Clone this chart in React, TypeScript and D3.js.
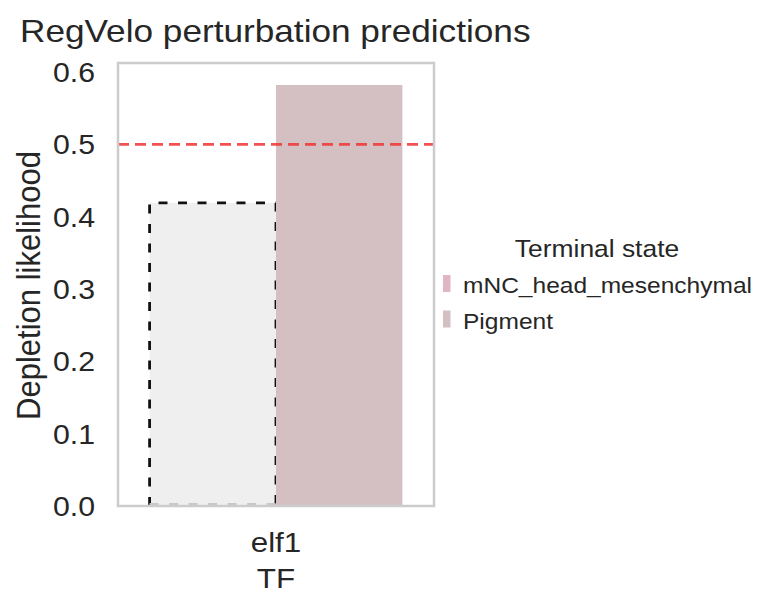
import * as d3 from 'd3';
import type { ReactNode } from 'react';

// data
const genes = ['elf1'];
const states = ['mNC_head_mesenchymal', 'Pigment'];
const likelihood = [0.419, 0.582];
const significant = [false, true];
const stateColors = ['#dfb6c1', '#d4bfc3'];
const yTicks = [0, 0.1, 0.2, 0.3, 0.4, 0.5, 0.6];
const threshold = 0.5;

const W = 767;
const H = 610;
const margin = { top: 63, right: 333, bottom: 104, left: 118 };
const font = '"Liberation Sans", Arial, sans-serif';
const ink = '#262626';
// the reference text is a little wider than plain Arial
const SX = 1.1;

function T({
  x,
  y,
  size,
  anchor = 'start',
  rotate = 0,
  children,
}: {
  x: number;
  y: number;
  size: number;
  anchor?: 'start' | 'middle' | 'end';
  rotate?: number;
  children: ReactNode;
}) {
  const t = `translate(${x},${y}) scale(${SX},1) rotate(${rotate})`;
  return (
    <text transform={t} textAnchor={anchor} fontSize={size} fill={ink}>
      {children}
    </text>
  );
}

export default function App() {
  const x0 = margin.left;
  const x1 = W - margin.right;
  const y0 = H - margin.bottom;
  const y1 = margin.top;

  const xScale = d3.scaleLinear().domain([-0.5, 0.5]).range([x0, x1]);
  const yScale = d3.scaleLinear().domain([0, 0.6124]).range([y0, y1]);
  const inner = d3.scaleBand<string>().domain(states).range([-0.4, 0.4]);

  return (
    <svg width={W} height={H} style={{ position: 'absolute', left: 0, top: 0, background: '#fff' }} fontFamily={font}>
      <T x={20} y={42} size={32}>
        RegVelo perturbation predictions
      </T>

      {states.map((s, i) => {
        const bx = xScale(inner(s) as number);
        const bw = xScale(inner.bandwidth()) - xScale(0);
        const by = yScale(likelihood[i]);
        const bh = y0 - by;
        if (significant[i]) {
          return <rect key={s} x={bx} y={by} width={bw} height={bh} fill={stateColors[i]} />;
        }
        return (
          <g key={s}>
            <rect x={bx} y={by} width={bw} height={bh} fill="#efefef" />
            <path
              d={`M${bx},${y0} L${bx},${by} L${bx + bw},${by} L${bx + bw},${y0}`}
              fill="none"
              stroke="#111"
              strokeWidth={2.8}
              strokeDasharray="9 10.5"
            />
            <line x1={bx} x2={bx + bw} y1={y0 - 2} y2={y0 - 2} stroke="#c8c8c8" strokeWidth={2} strokeDasharray="9 10.5" />
          </g>
        );
      })}

      <line
        x1={x0}
        x2={x1}
        y1={yScale(threshold)}
        y2={yScale(threshold)}
        stroke="#ee3333"
        strokeOpacity={0.85}
        strokeWidth={2.8}
        strokeDasharray="11 6"
      />

      <rect x={x0} y={y1} width={x1 - x0} height={y0 - y1} fill="none" stroke="#cccccc" strokeWidth={2.5} />

      {yTicks.map((t) => (
        <T key={t} x={95} y={yScale(t) + 10} anchor="end" size={27.5}>
          {t.toFixed(1)}
        </T>
      ))}

      {genes.map((g) => (
        <g key={g}>
          <T x={xScale(0)} y={552} anchor="middle" size={28.5}>
            {g}
          </T>
          <T x={xScale(0)} y={588} anchor="middle" size={28.5}>
            TF
          </T>
        </g>
      ))}

      <T x={40} y={(y0 + y1) / 2 + 1} anchor="middle" size={31} rotate={-90}>
        Depletion likelihood
      </T>

      <T x={597} y={257} anchor="middle" size={24}>
        Terminal state
      </T>
      {states.map((s, i) => (
        <g key={s} transform={`translate(0,${i * 35.5})`}>
          <rect x={443} y={275} width={7.5} height={17} fill={stateColors[i]} />
          <T x={463} y={293} size={22.3}>
            {s}
          </T>
        </g>
      ))}
    </svg>
  );
}
